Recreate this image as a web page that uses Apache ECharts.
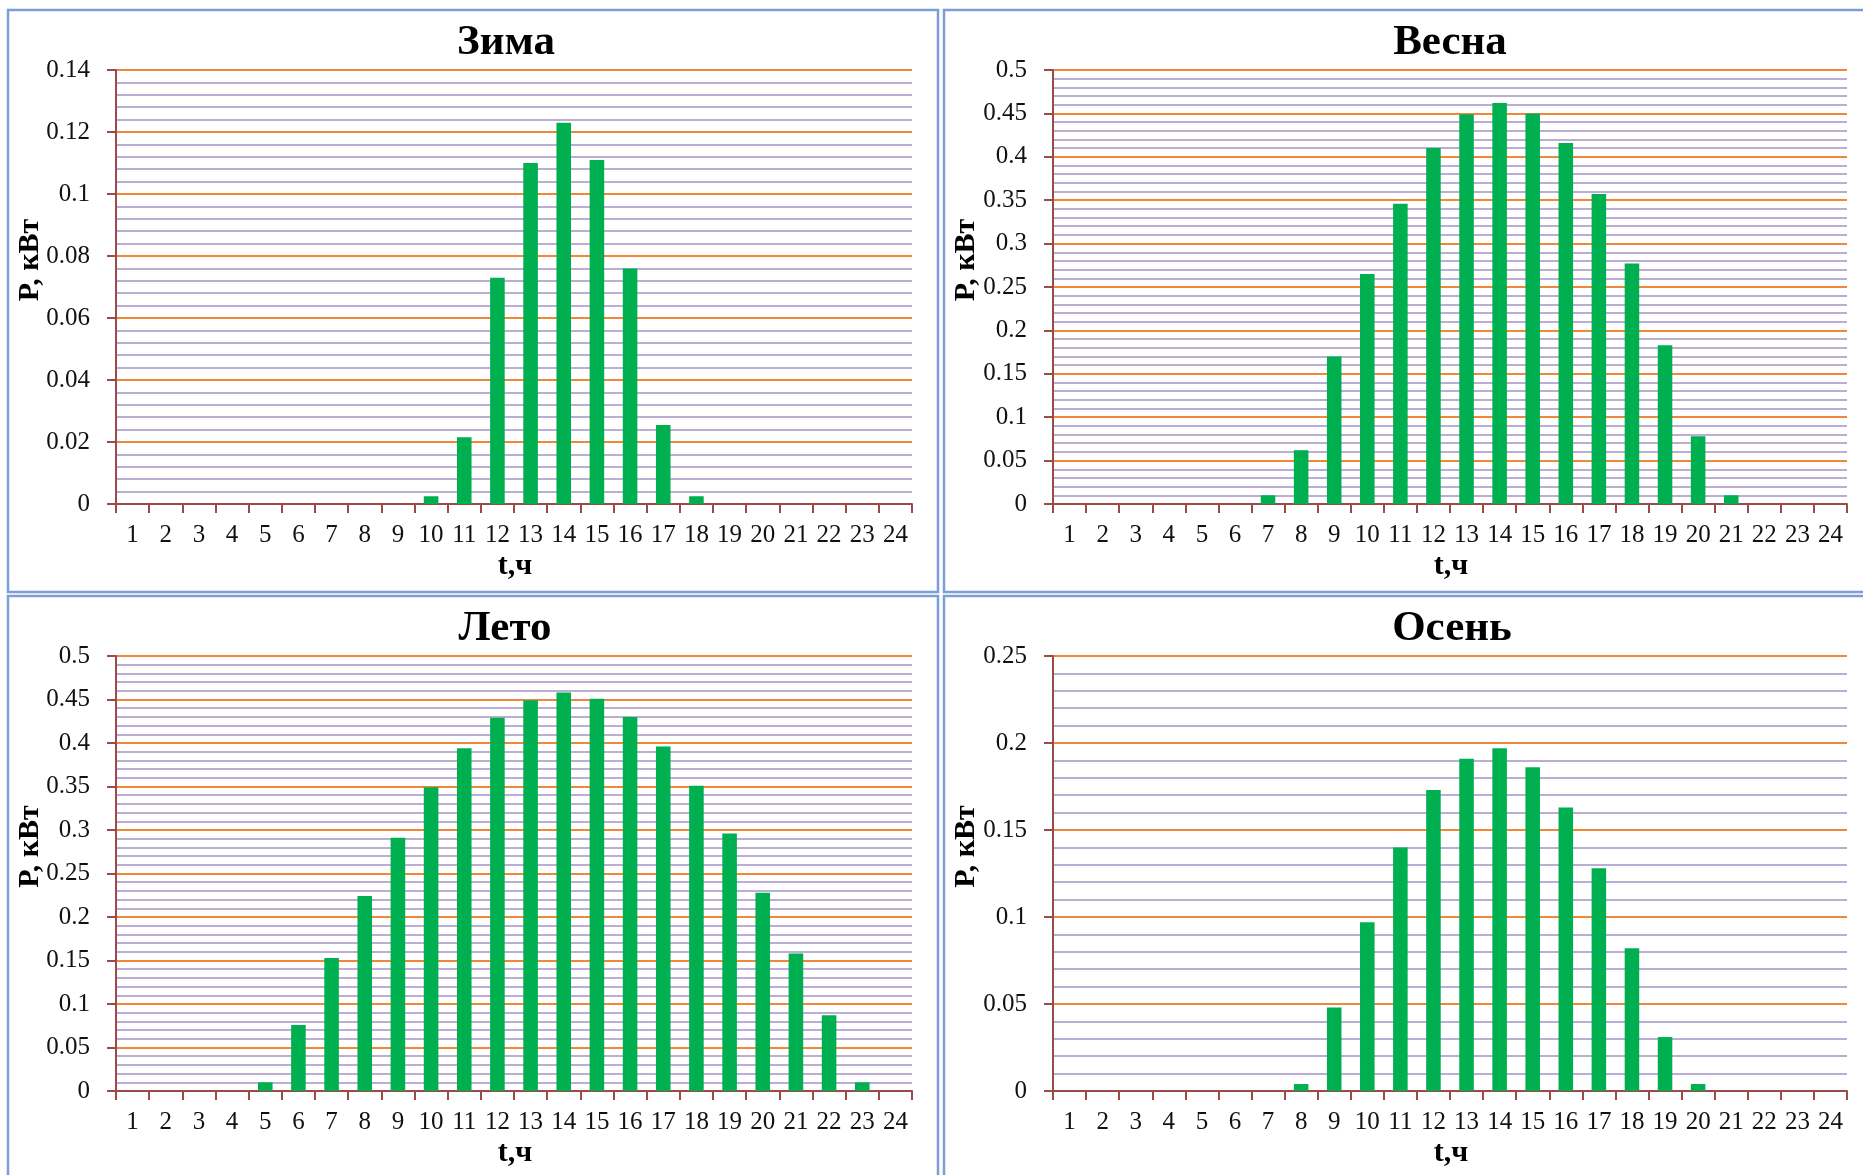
<!DOCTYPE html>
<html>
<head>
<meta charset="utf-8">
<script src="https://cdn.jsdelivr.net/npm/echarts@6/dist/echarts.min.js"></script>
<style>
  html, body { margin: 0; padding: 0; background: #ffffff; }
  #chart { width: 1863px; height: 1175px; }
</style>
</head>
<body>
<div id="chart"></div>
<script>
// Hourly PV output by season, kW
const hours = ['1','2','3','4','5','6','7','8','9','10','11','12','13','14','15','16','17','18','19','20','21','22','23','24'];
const winter = [0, 0, 0, 0, 0, 0, 0, 0, 0, 0.0025, 0.0215, 0.073, 0.11, 0.123, 0.111, 0.076, 0.0255, 0.0025, 0, 0, 0, 0, 0, 0];
const spring = [0, 0, 0, 0, 0, 0, 0.01, 0.062, 0.17, 0.265, 0.346, 0.41, 0.449, 0.462, 0.45, 0.416, 0.357, 0.277, 0.183, 0.078, 0.01, 0, 0, 0];
const summer = [0, 0, 0, 0, 0.01, 0.076, 0.153, 0.224, 0.291, 0.349, 0.394, 0.429, 0.449, 0.458, 0.451, 0.43, 0.396, 0.351, 0.296, 0.228, 0.158, 0.087, 0.01, 0];
const autumn = [0, 0, 0, 0, 0, 0, 0, 0.004, 0.048, 0.097, 0.14, 0.173, 0.191, 0.197, 0.186, 0.163, 0.128, 0.082, 0.031, 0.004, 0, 0, 0, 0];

const seasonNames = ['Зима', 'Весна', 'Лето', 'Осень'];
const seasonData = [winter, spring, summer, autumn];
const yMax = [0.14, 0.5, 0.5, 0.25];
const yStep = [0.02, 0.05, 0.05, 0.05];
const yTitle = 'P, кВт';
const xTitle = 't,ч';

// panel geometry (px): outer frame and plot rectangle, plus title shift
const panels = [
  { frame: [8, 10, 930, 582],   plot: [116, 70, 796, 434],  titleShift: -8 },
  { frame: [944, 10, 930, 582], plot: [1053, 70, 794, 434], titleShift: 0 },
  { frame: [8, 596, 930, 600],  plot: [116, 656, 796, 435], titleShift: -9 },
  { frame: [944, 596, 930, 600], plot: [1053, 656, 794, 435], titleShift: 2 }
];

const serif = '"Liberation Serif", "DejaVu Serif", serif';
const axisColor = '#9c4a48';
const majorColor = '#f0883a';
const minorColor = '#bcaed3';
const barColor = '#00b050';

const grid = [], xAxis = [], yAxis = [], series = [], title = [], graphic = [];

panels.forEach((p, i) => {
  const [gx, gy, gw, gh] = p.plot;
  const [fx, fy, fw, fh] = p.frame;
  const cx = gx + gw / 2;

  grid.push({ left: gx, top: gy, width: gw, height: gh, containLabel: false });

  xAxis.push({
    type: 'category',
    gridIndex: i,
    data: hours,
    boundaryGap: true,
    axisLine: { show: true, lineStyle: { color: axisColor, width: 2 } },
    axisTick: { show: true, alignWithLabel: false, length: 9, lineStyle: { color: axisColor, width: 2 } },
    axisLabel: { show: true, interval: 0, margin: 19, color: '#111', fontFamily: serif, fontSize: 25 },
    splitLine: { show: false }
  });

  yAxis.push({
    type: 'value',
    gridIndex: i,
    min: 0,
    max: yMax[i],
    interval: yStep[i],
    axisLine: { show: true, lineStyle: { color: axisColor, width: 2 } },
    axisTick: { show: true, inside: false, length: 9, lineStyle: { color: axisColor, width: 2 } },
    axisLabel: { show: true, margin: 26, color: '#111', fontFamily: serif, fontSize: 25 },
    splitLine: { show: true, lineStyle: { color: majorColor, width: 2 } },
    minorTick: { show: false, splitNumber: 5 },
    minorSplitLine: { show: true, lineStyle: { color: minorColor, width: 2 } }
  });

  series.push({
    type: 'bar',
    name: seasonNames[i],
    xAxisIndex: i,
    yAxisIndex: i,
    data: seasonData[i],
    barCategoryGap: '56%',
    itemStyle: { color: barColor },
    z: 3
  });

  title.push({
    text: seasonNames[i],
    left: cx + p.titleShift,
    top: fy + 11,
    textAlign: 'center',
    padding: 0,
    textStyle: { fontFamily: serif, fontWeight: 'bold', fontSize: 43, color: '#000' }
  });

  // panel frame
  graphic.push({
    type: 'rect',
    shape: { x: fx, y: fy, width: fw, height: fh },
    style: { fill: 'none', stroke: '#7b9fd4', lineWidth: 2.5 },
    z: -1
  });

  // axis names
  graphic.push({
    type: 'text',
    x: cx + 1,
    y: gy + gh + 62,
    style: { text: xTitle, fill: '#000', font: 'bold 30px ' + serif, align: 'center', verticalAlign: 'middle' }
  });
  graphic.push({
    type: 'text',
    x: fx + 22,
    y: gy + gh / 2 - 27,
    rotation: Math.PI / 2,
    style: { text: yTitle, fill: '#000', font: 'bold 30px ' + serif, align: 'center', verticalAlign: 'middle' }
  });
});

const chart = echarts.init(document.getElementById('chart'), null, { renderer: 'canvas' });
chart.setOption({
  animation: false,
  backgroundColor: '#ffffff',
  title, grid, xAxis, yAxis, series, graphic
});
</script>
</body>
</html>
